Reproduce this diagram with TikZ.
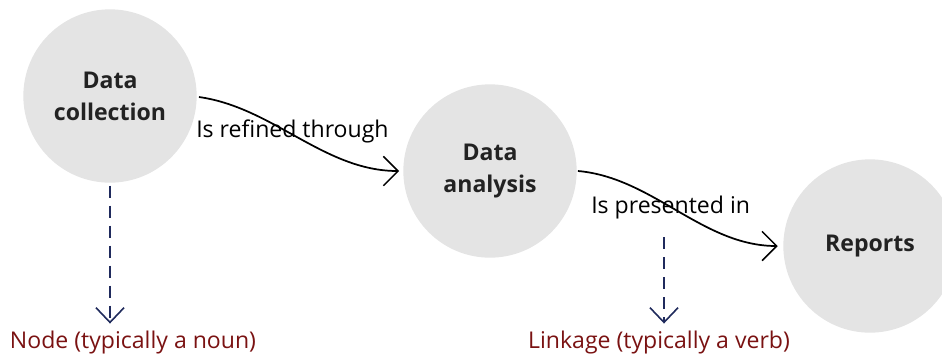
\documentclass[tikz,border=0pt]{standalone}
\usepackage{fontspec}
\setmainfont{Open Sans}
\usetikzlibrary{arrows.meta,positioning}
\definecolor{bubble}{HTML}{E4E4E4}
\definecolor{inkgrey}{HTML}{222222}
\definecolor{navyline}{HTML}{1F2A5C}
\definecolor{noteRed}{HTML}{7A1212}

\tikzset{
  concept/.style={circle, fill=bubble, minimum size=130pt, inner sep=0pt,
    align=center, text=inkgrey, font=\fontsize{17.3}{24}\selectfont\bfseries},
  link/.style={line width=1.3pt, -{Straight Barb[length=11pt,width=22pt,line width=1.1pt]}},
  linktext/.style={font=\fontsize{17.3}{20}\selectfont, text=black, inner sep=0pt},
  pointer/.style={navyline, line width=1.8pt, dash pattern=on 9pt off 6pt,
    -{Straight Barb[length=11pt,width=21pt,line width=1.2pt]}},
  remark/.style={font=\fontsize{17.3}{20}\selectfont, text=noteRed, inner sep=0pt}
}

\begin{document}
\begin{tikzpicture}[x=0.75pt,y=-0.75pt]
  \useasboundingbox[clip] (0,0) rectangle (942,358);

  % the three concepts
  \node[concept] (collect) at (110,96) {Data\\collection};
  \node[concept] (analyse) at (490,171) {Data\\analysis};
  \node[concept] (report) at (870,246) {Reports};

  % linkages between them
  \draw[link] (collect.east) ++(2,1) to[out=-8,in=180,looseness=0.9] ([xshift=-3pt]analyse.west);
  \draw[link] (analyse.east) ++(1,0) to[out=-5,in=180,looseness=0.9] ([xshift=-4pt]report.west);
  \node[linktext, anchor=west] (refined) at (196,131) {Is refined through};
  \node[linktext, anchor=west] (presented) at (591,208) {Is presented in};

  % explanatory notes below
  \node[remark] (noun) at (133,342) {Node (typically a noun)};
  \node[remark] (verb) at (659,342) {Linkage (typically a verb)};
  \coordinate (verbtop) at (664,237);
  \draw[pointer, shorten >=5pt] ([yshift=-2pt]collect.south) -- (collect.south |- noun.north);
  \draw[pointer, shorten >=5pt] (verbtop) -- (verbtop |- verb.north);
\end{tikzpicture}
\end{document}
